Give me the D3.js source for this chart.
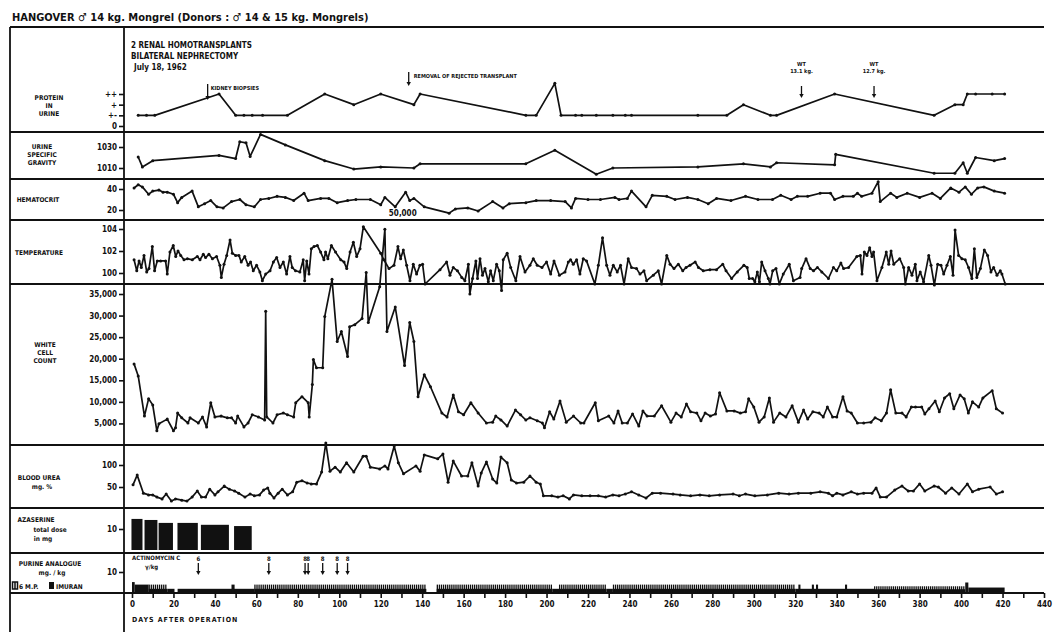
<!DOCTYPE html>
<html>
<head>
<meta charset="utf-8">
<script src="https://cdn.jsdelivr.net/npm/d3@7"></script>
<style>
body { margin: 0; background: #fff; }
text { font-family: "DejaVu Sans Condensed", "Liberation Sans Narrow", "DejaVu Sans", sans-serif; font-weight: bold; fill: #111; }
</style>
</head>
<body>
<div id="chart-area"></div>
<script>
/*
*    hangover chart
*/

// ---- data: [day, value] ----
var proteinTicks = ["0", "+-", "+", "++"];
var protein = [[3,1],[7,1],[11,1],[42,3],[50,1],[54,1],[58,1],[63,1],[75,1],[93,3],[107,2],[120,3],[136,2],[139,3],
  [190,1],[195,1],[204,4],[207,1],[214,1],[217,1],[224,1],[232,1],[238,1],[241,1],[273,1],[287,1],[295,2],[308,1],
  [311,1],[339,3],[387,1],[397,2],[401,2],[403,3],[407,3],[415,3],[421,3]];

var gravity = [[3,1020.5],[5,1011],[10,1017],[42,1022],[50,1019],[52,1035],[55,1034],[57,1021],[62,1042],[74,1032],
  [93,1017],[107,1009],[120,1011],[136,1010],[139,1014],[190,1014],[204,1027],[224,1004],[232,1010],[273,1011],
  [295,1014],[308,1011],[311,1015],[339,1013],[339.5,1023],[387,1005],[397,1005],[401,1015],[403,1005],[407,1020],
  [416,1017],[421,1019]];

var hematocrit = [[1,41],[3,44],[5,42],[8,35],[10,38],[13,39],[15,37],[17,37],[20,35],[22,27],[24,32],[29,38],[32,23],
  [35,26],[38,29],[41,23],[44,22],[48,28],[52,30],[55,25],[59,23],[62,30],[66,31],[70,33],[74,32],[78,29],[83,36],
  [85,29],[91,31],[95,31],[99,27],[104,29],[108,30],[115,30],[120,25],[122,32],[127,23],[132,37],[134,29],[136,31],
  [141,23],[153,17],[156,21],[162,22],[167,19],[174,28],[179,22],[182,26],[190,27],[195,29],[202,29],[209,28],
  [212,22],[214,31],[220,30],[226,30],[233,32],[235,30],[239,31],[241,38],[248,23],[251,34],[258,33],[262,30],
  [268,32],[273,30],[278,26],[282,31],[289,29],[296,33],[302,30],[309,30],[313,34],[318,30],[321,33],[326,33],
  [332,36],[337,36],[339,30],[343,33],[348,33],[350,36],[352,33],[357,36],[360,47],[361,28],[366,36],[369,32],
  [374,36],[380,32],[386,36],[390,31],[395,41],[399,37],[402,42],[405,35],[408,41],[411,42],[416,38],[421,36]];

var temperature = [[1,101.2],[2.3,100.2],[3.4,101.1],[4.5,100.5],[5.8,101.6],[7.1,100.1],[8.2,100.4],[9.8,102.4],
  [10.9,100.2],[12.2,101.1],[13.8,101.1],[16.2,101.1],[17,99.9],[18.3,101.9],[19.9,102.5],[21.1,101.5],[22.2,102],
  [23.5,101.6],[25.1,101.2],[26.7,101.3],[29.1,101.2],[31.5,101.5],[32.8,101.2],[34.4,101.7],[35.5,101.4],
  [37.1,101.7],[38.8,101.3],[40.8,101.5],[42.4,100.7],[43.1,99.6],[44.4,100.8],[45.7,101.6],[47.3,103],[48.4,101.8],
  [50,101.6],[51.6,101.6],[52.7,101],[54.4,101.5],[56,100.7],[57.2,101],[58.5,100.2],[60.1,100.7],[61.7,100.1],
  [62.9,99.3],[64.5,99.9],[66.6,100.2],[68.2,101],[69.8,101.4],[71.4,100.5],[73,101],[74.6,99.9],[76.2,101.5],
  [77.3,100.5],[78.9,100.2],[81,100.1],[82.6,101.2],[83.3,99.3],[84.3,101.1],[85.4,99.9],[86.5,102.2],[87.8,102.4],
  [89.4,102.5],[91,101.9],[92.6,101.2],[93.4,101.9],[94.5,101.3],[96.2,102.5],[98.2,101.9],[100.7,101.2],[102.3,101],
  [103.6,100.4],[105.2,101.9],[106.8,102.8],[108.4,101.5],[110,102.2],[111.6,104.2],[120,101.8],[121.5,101.2],
  [124,100.4],[126.4,100.7],[128.3,102.4],[129.6,101.3],[130.9,102.1],[132.5,100.7],[134.1,99.3],[135.7,100.8],
  [137.3,99.9],[138.9,100.7],[140.2,100.8],[141.4,99],[148.6,100.3],[151.8,101],[153.4,99.8],[155,100.5],[157,100.2],
  [159.1,99.6],[160.6,99.3],[162.3,100.8],[163,98.1],[164.3,99.5],[165.9,101.1],[166.7,99.5],[167.9,101.3],
  [169.1,99.8],[170.3,100.4],[171.9,99.2],[173,100.2],[174.3,99.3],[175.9,100.8],[177.2,100.2],[178.3,98.4],
  [179.1,101.2],[181,101.8],[182.7,100.5],[185.2,99.3],[187.2,101.5],[189.6,100.1],[192,100.7],[193.6,101.3],
  [195.5,100.7],[197.8,100.5],[200,101],[202,99.9],[203.6,101.1],[206.2,99.8],[208.9,100.1],[210.5,101],[211.6,101.2],
  [212.9,100.8],[214.5,101.2],[216.1,99.9],[217.7,101.3],[219.3,101.1],[223.3,99],[225,100.7],[227,103.2],[229,100.7],
  [230.6,99.8],[232.2,100.7],[234.1,100.1],[235.7,100.7],[237.4,99],[239.4,101.3],[241,100.5],[243.4,100.4],
  [245.1,99.9],[247,100.2],[248.3,99.3],[251.5,99.8],[253.9,100.2],[255.5,99],[258,101.6],[259.6,100.8],[261.5,100.4],
  [263.6,100.8],[265.7,100.2],[267.3,100.5],[269.2,100.7],[271.7,101],[273.3,100.5],[275.6,100.2],[278.8,100.3],
  [282,100.3],[285,100.8],[286.6,100.2],[289.3,99.5],[292,100.1],[295.2,100.7],[296.8,100.5],[297.8,99.5],[299.4,99.5],
  [300.5,99.2],[301.7,100.1],[302.7,99.2],[303.8,101],[305.4,100.2],[307,99.5],[307.8,99],[309.1,100.2],[310.7,100.4],
  [312.3,99],[314.2,99.9],[317.1,100.8],[319.1,99.3],[322.3,99.6],[323.1,100.4],[325.2,101.3],[327.2,100.4],
  [328.8,100.2],[330.7,100.5],[332.8,100.1],[336,99.5],[338.4,100.5],[340,100.2],[342,100.9],[343.3,100.4],
  [345.7,100.5],[349.7,101.5],[351.4,101.6],[352.2,99.9],[353.3,101.9],[354.6,101.6],[355.9,102.3],[357,101.5],
  [357.8,101.9],[359.4,99.3],[361.8,100.5],[363.9,101.9],[365.1,100.8],[366.2,102],[367.5,100.8],[370.4,101.3],
  [372.3,100.5],[373.1,99],[374.7,100.5],[376.3,99.8],[377.9,100.8],[378.7,99.3],[380.3,100.1],[381.9,99.2],
  [384.4,101.6],[385.5,100.7],[387.1,98.9],[388.7,100.8],[390.3,100.7],[391.6,99.9],[393.2,100.7],[394.8,101.5],
  [396.1,99.8],[397.1,103.9],[398.8,101.6],[400.4,101.3],[402,101.2],[403.6,100.5],[405.2,99.5],[406.4,102.2],
  [407.6,99.6],[409.3,100.4],[411.2,102.1],[412.8,101.6],[414.4,100.1],[415.7,100.5],[417.3,99.8],[418.9,100.2],
  [419.7,99.9],[421.3,99]];

var whiteCells = [[1,18800],[3,16000],[6,6700],[8,10700],[10,9300],[12,3300],[13,4900],[17,6000],[20,3300],[21,4000],
  [22,7400],[24,6300],[27,5100],[28,6300],[32,5100],[34,6500],[36,4200],[38,9800],[40,6500],[43,6700],[46,6300],
  [48,6300],[50,5100],[51,6700],[54,4200],[56,5100],[58,7000],[61,6500],[64,5800],[64.5,31000],[65,6500],[68,5100],
  [70,7000],[73,7400],[75,7000],[78,6500],[79,9800],[82,11200],[85,9800],[85.5,6500],[87,14000],[87.5,19800],
  [89,17900],[92,17900],[93,29800],[96.5,38400],[99,24000],[101,26300],[104,20500],[105,27400],[107.5,27900],
  [111,29300],[113,40000],[114,28400],[119.5,36700],[122,50000],[123,26300],[127,32000],[131.5,18400],[134,28400],
  [136,24000],[138,11200],[141,16300],[144,13500],[149.5,7400],[152,6500],[155,11600],[157.5,7700],[160,7000],
  [163.5,9800],[167,7400],[171,5100],[174,5300],[175.5,6700],[178,5800],[181,4400],[185,8100],[187.5,7000],
  [190,5800],[192,6300],[195.5,5600],[198,5100],[199,4000],[201.5,7700],[203.5,6000],[206.5,10200],[209.5,5300],
  [213,6700],[216.5,5100],[218,5100],[223.5,9800],[225,5600],[230,6700],[232.5,5100],[234.5,7900],[236.5,5100],
  [239,5100],[241.5,7200],[244.5,4400],[246.5,7900],[248.5,6700],[252,6700],[255.5,9100],[260,5300],[262.5,7400],
  [265,6500],[267.5,9500],[269.5,7700],[272.5,7400],[274.5,5600],[276.5,7400],[279,6700],[281.5,7200],[283.5,12100],
  [287,7900],[290.5,7900],[293.5,7400],[296,7700],[297.5,10700],[300,8800],[302.5,5300],[305,6500],[307.5,10900],
  [309.5,5300],[312.5,7400],[315.5,6500],[318.5,9100],[321.5,5300],[324,8100],[326,6000],[328.5,7700],[331.5,7400],
  [333.5,6500],[335.5,8800],[338,6500],[340,6500],[343,11200],[345,7900],[347,7400],[350,5100],[353,5100],
  [356.5,5300],[358.5,6300],[361.5,5600],[364,7400],[366,12800],[368.5,7400],[371.5,7400],[373.5,6500],[376,8800],
  [378,8800],[381,8800],[382.5,7200],[384.5,8400],[387.5,10200],[389.5,7700],[392,10900],[394.5,11900],[396.5,8400],
  [399.5,11600],[401.5,10700],[403.5,7400],[405.5,10000],[408.5,8800],[410.5,10900],[415,12600],[417,8400],[420,7400]];

var bloodUrea = [[0.5,55],[2.5,77],[5.5,36],[8,32],[10,32],[12,27],[14.5,23],[16.5,34],[19,18],[21,23],[24,20],
  [26.5,18],[29,27],[31.5,41],[33.5,27],[35.5,27],[37.5,45],[40,32],[41.5,39],[44.5,52],[47,45],[49.5,41],[51.5,36],
  [54.5,27],[57,34],[59,30],[61.5,32],[63.5,43],[65.5,48],[66.5,36],[68.5,25],[70.5,36],[72.5,45],[75,32],[77.5,39],
  [79.5,61],[82,64],[84.5,59],[86.5,57],[89,57],[91.5,84],[93.5,150],[95.5,86],[98,95],[100.5,84],[103.5,105],
  [107,84],[111.5,120],[113,120],[115,95],[119.5,91],[122,98],[123.5,91],[126.5,143],[128.5,105],[131,80],[137,98],
  [139,86],[141,123],[147.5,114],[150,125],[152.5,61],[155,109],[159,75],[162,75],[164,105],[167,52],[168.5,82],
  [171,107],[174,68],[176,59],[178,118],[181,105],[183,66],[185.5,59],[189,61],[192,75],[195,61],[197,57],
  [198.5,30],[202.5,30],[205.5,27],[208,30],[211,23],[213,32],[217,30],[221,30],[225,30],[228.5,27],[232,32],
  [235,30],[238,34],[241,39],[244.5,32],[248,25],[251,36],[255,36],[261,34],[264.5,32],[269.5,30],[274,32],
  [278.5,30],[283.5,32],[290,34],[293,30],[296,34],[300.5,30],[306.5,32],[312,36],[317,34],[321.5,36],[327.5,36],
  [332,39],[336,36],[338,30],[340,36],[343,32],[347,39],[350,34],[353,36],[357,36],[359,48],[361,27],[364,27],
  [368,43],[371.5,52],[374.5,41],[377,41],[380,57],[382.5,41],[387,52],[389,50],[392.5,36],[395.5,48],[399,34],
  [403,57],[405.5,39],[408.5,45],[414,50],[417,34],[420,39]];

// azaserine total dose, mg: [first day, last day, dose]
var azaserine = [[-0.5,5.3,14.8],[5.8,12.5,14.3],[12.6,20,12.9],[21.7,32,12.9],[33,47,12],[49,58,11.4]];

// purine analogue mg/kg: continuous courses [from, to, dose] and daily courses [from, to, dose]
var purineCourses = [[0,1.3,5.2],[1.3,8,4],[8,17,2],[17,20.5,2],[22,59,2],[48,49.5,4],[59,142,2],[147,203,2],
  [203,206,2],[206,229,2],[229,232,2],[232,320,2],[320,358,2],[321.5,322.5,4],[328,329,4],[330,331,4],
  [344,345,4],[358,402,1.8],[402,403.5,5],[403.5,421,2.6]];
var purineDaily = [[8,17,4],[59,142,4],[147,203,4],[206,229,4],[232,320,4],[358,402,3.2]];

var actinoDays = [32, 66, 83.5, 85, 92, 99, 104];
var actinoDoses = ["6", "8", "8", "8", "8", "8", "8"];

var xTicks = d3.range(0, 441, 10);

// ---- layout ----
var width = 1054, height = 632;
var left = 10, divider = 124, right = 1044;
var rows = [27, 132, 179, 220, 284, 445, 508, 553, 593];

var svg = d3.select("#chart-area").append("svg")
  .attr("width", width)
  .attr("height", height);

var x = d3.scaleLinear().domain([0, 440]).range([132, 1044]);

var yProt = d3.scaleLinear().domain([0, 3]).range([126, 94]);
var ySG = d3.scaleLinear().domain([1010, 1030]).range([168, 147]);
var yHct = d3.scaleLinear().domain([20, 40]).range([210, 189]);
var yTemp = d3.scaleLinear().domain([100, 104]).range([273, 229]);
var yWbc = d3.scaleLinear().domain([0, 35000]).range([445, 294]);
var yBU = d3.scaleLinear().domain([50, 100]).range([487, 465]);
var yAza = d3.scaleLinear().domain([0, 10]).range([550, 529]);
var yPur = d3.scaleLinear().domain([0, 10]).range([593, 572]);

// title
svg.append("text")
  .attr("x", 12).attr("y", 21)
  .attr("font-size", "11px")
  .text("HANGOVER \u2642 14 kg. Mongrel  (Donors :  \u2642 14 & 15 kg. Mongrels)");

// frame
var frame = svg.append("g").attr("stroke", "#111").attr("stroke-width", 1.8);
rows.forEach(function(r) {
  frame.append("line").attr("x1", left).attr("x2", right).attr("y1", r).attr("y2", r);
});
frame.append("line").attr("x1", left).attr("x2", left).attr("y1", rows[0]).attr("y2", height);
frame.append("line").attr("x1", divider).attr("x2", divider).attr("y1", rows[0]).attr("y2", height);

// left axes
function leftAxis(scale, values, fmt) {
  var ax = d3.axisLeft(scale).tickValues(values).tickSize(5).tickPadding(2)
    .tickFormat(fmt || d3.format("d"));
  var g = svg.append("g")
    .attr("transform", "translate(" + divider + ",0)")
    .call(ax);
  g.select(".domain").remove();
  g.selectAll("line").attr("stroke", "#111").attr("stroke-width", 1.6);
  g.selectAll("text").attr("font-size", "8px").attr("font-family", null);
  return g;
}
leftAxis(yProt, [0, 1, 2, 3], function(d) { return proteinTicks[d]; });
leftAxis(ySG, [1010, 1030]);
leftAxis(yHct, [20, 40]);
leftAxis(yTemp, [100, 102, 104]);
leftAxis(yWbc, d3.range(5000, 35001, 5000), d3.format(","));
leftAxis(yBU, [50, 100]);
leftAxis(yAza, [10]);
leftAxis(yPur, [10]);

// bottom axis
var bottom = svg.append("g")
  .attr("transform", "translate(0," + rows[8] + ")")
  .call(d3.axisBottom(x).tickValues(xTicks).tickSize(5).tickPadding(3)
    .tickFormat(function(d) { return d % 20 === 0 ? d : ""; }));
bottom.select(".domain").remove();
bottom.selectAll("line").attr("stroke", "#111").attr("stroke-width", 1.6);
bottom.selectAll("text").attr("font-size", "8px").attr("font-family", null);

svg.append("text")
  .attr("x", 132).attr("y", 622)
  .attr("font-size", "7px")
  .attr("letter-spacing", "1px")
  .text("DAYS  AFTER  OPERATION");

// left labels
var labels = [
  [49, 100, "PROTEIN"], [49, 108, "IN"], [49, 116, "URINE"],
  [42, 149, "URINE"], [42, 157, "SPECIFIC"], [42, 165, "GRAVITY"],
  [38, 202, "HEMATOCRIT"],
  [39, 255, "TEMPERATURE"],
  [45, 347, "WHITE"], [45, 355, "CELL"], [45, 363, "COUNT"],
  [39, 480, "BLOOD  UREA"], [42, 489, "mg. %"],
  [36, 522, "AZASERINE"], [50, 532, "total  dose"], [43, 541, "in  mg"],
  [50, 566, "PURINE  ANALOGUE"], [52, 575, "mg. / kg"]
];
svg.append("g").selectAll("text")
  .data(labels).enter().append("text")
  .attr("x", function(d) { return d[0]; })
  .attr("y", function(d) { return d[1]; })
  .attr("text-anchor", "middle")
  .attr("font-size", "6.5px")
  .text(function(d) { return d[2]; });

// purine legend
svg.append("rect").attr("x", 12.5).attr("y", 582).attr("width", 5).attr("height", 7)
  .attr("fill", "#fff").attr("stroke", "#111").attr("stroke-width", 1.5);
svg.append("line").attr("x1", 15).attr("x2", 15).attr("y1", 582).attr("y2", 589).attr("stroke", "#111").attr("stroke-width", 1.5);
svg.append("text").attr("x", 19).attr("y", 589).attr("font-size", "6.5px").text("6 M.P.");
svg.append("rect").attr("x", 49).attr("y", 582).attr("width", 5).attr("height", 7).attr("fill", "#111");
svg.append("text").attr("x", 56).attr("y", 589).attr("font-size", "6.5px").text("IMURAN");

// lines with dots
function series(data, y) {
  var line = d3.line().x(function(d) { return x(d[0]); }).y(function(d) { return y(d[1]); });
  var g = svg.append("g");
  g.append("path").datum(data)
    .attr("d", line)
    .attr("fill", "none")
    .attr("stroke", "#111")
    .attr("stroke-width", 1.7)
    .attr("stroke-linejoin", "round");
  g.selectAll("circle").data(data).enter().append("circle")
    .attr("cx", function(d) { return x(d[0]); })
    .attr("cy", function(d) { return y(d[1]); })
    .attr("r", 1.5)
    .attr("fill", "#111");
}
series(protein, yProt);
series(gravity, ySG);
series(hematocrit, yHct);
series(temperature, yTemp);
series(whiteCells, yWbc);
series(bloodUrea, yBU);

// azaserine bars
svg.append("g").selectAll("rect")
  .data(azaserine).enter().append("rect")
  .attr("x", function(d) { return x(d[0]) + 0.5; })
  .attr("width", function(d) { return x(d[1]) - x(d[0]) - 1; })
  .attr("y", function(d) { return yAza(d[2]); })
  .attr("height", function(d) { return yAza(0) - yAza(d[2]); })
  .attr("fill", "#111");

// purine analogue
svg.append("g").selectAll("rect")
  .data(purineCourses).enter().append("rect")
  .attr("x", function(d) { return x(d[0]); })
  .attr("width", function(d) { return x(d[1]) - x(d[0]); })
  .attr("y", function(d) { return yPur(d[2]); })
  .attr("height", function(d) { return yPur(0) - yPur(d[2]); })
  .attr("fill", "#111");

var dailyDoses = [];
purineDaily.forEach(function(c) {
  d3.range(c[0], c[1], 1).forEach(function(day) { dailyDoses.push([day, c[2]]); });
});
svg.append("g").selectAll("rect")
  .data(dailyDoses).enter().append("rect")
  .attr("x", function(d) { return x(d[0]); })
  .attr("width", 1.3)
  .attr("y", function(d) { return yPur(d[1]); })
  .attr("height", function(d) { return yPur(0) - yPur(d[1]); })
  .attr("fill", "#111");

// arrows
function arrow(xp, y1, y2) {
  svg.append("line").attr("x1", xp).attr("x2", xp).attr("y1", y1).attr("y2", y2 - 3)
    .attr("stroke", "#111").attr("stroke-width", 1.3);
  svg.append("path")
    .attr("d", "M" + (xp - 2.2) + "," + (y2 - 4) + "L" + (xp + 2.2) + "," + (y2 - 4) + "L" + xp + "," + y2 + "Z")
    .attr("fill", "#111");
}

// actinomycin C
svg.append("text").attr("x", 132).attr("y", 560).attr("font-size", "6px").text("ACTINOMYCIN  C");
svg.append("text").attr("x", 145).attr("y", 569).attr("font-size", "6px").text("\u03b3/kg");
actinoDays.forEach(function(d, i) {
  arrow(x(d), 563, 575);
  svg.append("text").attr("x", x(d)).attr("y", 561).attr("text-anchor", "middle")
    .attr("font-size", "6px").text(actinoDoses[i]);
});

// top notes
var notes = svg.append("g").attr("font-size", "8px");
notes.append("text").attr("x", 131).attr("y", 48).text("2 RENAL  HOMOTRANSPLANTS");
notes.append("text").attr("x", 131).attr("y", 59).text("BILATERAL  NEPHRECTOMY");
notes.append("text").attr("x", 134).attr("y", 70).text("July  18, 1962");

arrow(x(36.5), 84, 100);
svg.append("text").attr("x", x(36.5) + 3).attr("y", 90).attr("font-size", "5.5px").text("KIDNEY  BIOPSIES");
arrow(x(133.5), 72, 86);
svg.append("text").attr("x", x(133.5) + 5).attr("y", 78).attr("font-size", "5.5px").text("REMOVAL  OF  REJECTED  TRANSPLANT");

[[323, "13.1 kg."], [358, "12.7 kg."]].forEach(function(w) {
  svg.append("text").attr("x", x(w[0])).attr("y", 66).attr("text-anchor", "middle").attr("font-size", "5.5px").text("WT");
  svg.append("text").attr("x", x(w[0])).attr("y", 73).attr("text-anchor", "middle").attr("font-size", "5.5px").text(w[1]);
  arrow(x(w[0]), 86, 98);
});

svg.append("text").attr("x", x(122) + 4).attr("y", 216).attr("font-size", "8px").text("50,000");
</script>
</body>
</html>
